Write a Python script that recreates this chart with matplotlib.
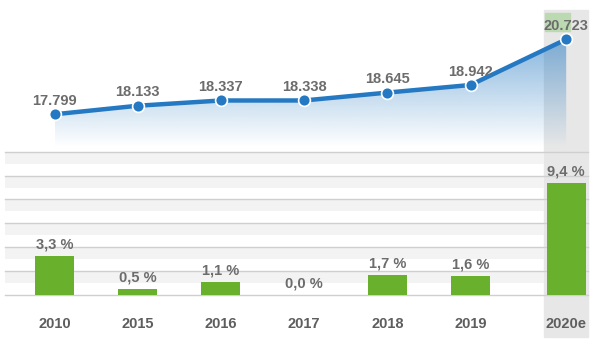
import numpy as np
import matplotlib
matplotlib.use('Agg')
import matplotlib.pyplot as plt
from matplotlib.patches import Rectangle, Polygon

years = ['2010', '2015', '2016', '2017', '2018', '2019', '2020e']
totals = [17.799, 18.133, 18.337, 18.338, 18.645, 18.942, 20.723]
growth = [3.3, 0.5, 1.1, 0.0, 1.7, 1.6, 9.4]
total_labels = ['17.799', '18.133', '18.337', '18.338', '18.645', '18.942', '20.723']
growth_labels = ['3,3 %', '0,5 %', '1,1 %', '0,0 %', '1,7 %', '1,6 %', '9,4 %']

BLUE = '#2479c2'
GREEN = '#69b12d'
TEXT = '#6c6c6c'
FONT = ['Liberation Sans', 'DejaVu Sans']

W, H = 600, 343
fig = plt.figure(figsize=(6, 3.43), dpi=100)
fig.patch.set_facecolor('white')

# estimate column sits a bit further right than the rest
xpos = np.arange(len(years), dtype=float)
xpos[-1] += 0.15
xlim = (-0.595, 6.412)


def px_box(x0, y0, x1, y1):
    # pixel box (top-left origin) -> figure fraction rect
    return [x0 / W, 1 - y1 / H, (x1 - x0) / W, (y1 - y0) / H]


# grey highlight behind the estimate
fig.patches.append(Rectangle((544 / W, 1 - 337 / H), 44 / W, 327 / H,
                             transform=fig.transFigure, color='#e7e7e7', zorder=-10))
# green tag behind the estimate value
fig.patches.append(Rectangle((545 / W, 1 - 31 / H), 25 / W, 18 / H,
                             transform=fig.transFigure, color='#bcdab2', zorder=-9))

# ---- top panel: totals line ----
ax1 = fig.add_axes(px_box(5, 0, 588, 147))
ax1.set_xlim(*xlim)
ylo, yhi = 16.524, 22.255
ax1.set_ylim(ylo, yhi)
ax1.patch.set_alpha(0)
ax1.axis('off')

grad = np.zeros((256, 1, 4))
r, g, b = matplotlib.colors.to_rgb(BLUE)
grad[..., 0], grad[..., 1], grad[..., 2] = r, g, b
grad[..., 3] = np.linspace(0.55, 0.0, 256)[:, None]
img = ax1.imshow(grad, extent=(xpos[0], xpos[-1], ylo, max(totals)),
                 aspect='auto', origin='upper', zorder=1)
poly = Polygon(list(zip(xpos, totals)) + [(xpos[-1], ylo), (xpos[0], ylo)],
               closed=True, transform=ax1.transData)
img.set_clip_path(poly)

ax1.plot(xpos, totals, color=BLUE, lw=3.2, zorder=3, solid_capstyle='round')
ax1.plot(xpos, totals, 'o', ms=8.5, color=BLUE, mec='white', mew=1.2, zorder=4)
for x, v, lab in zip(xpos, totals, total_labels):
    ax1.annotate(lab, (x, v), xytext=(0, 4.5), textcoords='offset points',
                 ha='center', va='bottom', fontsize=10.5, fontweight='bold',
                 color=TEXT, family=FONT, zorder=5)

# ---- bottom panel: growth bars ----
ax2 = fig.add_axes(px_box(5, 151.7, 588, 295))
ax2.set_xlim(*xlim)
ax2.set_ylim(0, 12)
ax2.patch.set_alpha(0)
for s in ax2.spines.values():
    s.set_visible(False)
ax2.set_xticks([])
ax2.set_yticks([])

# light stripes stop where the grey estimate column begins
band_end = (544 - 5) / (588 - 5)
for gl in range(0, 13, 2):
    ax2.axhline(gl, color='#cfcfcf', lw=1, zorder=1, clip_on=False)
    if gl > 0:
        ax2.axhspan(gl - 1, gl, xmax=band_end, color='#f3f3f3', lw=0, zorder=0.5)

ax2.bar(xpos, growth, width=0.47, color=GREEN, zorder=2)
for x, v, lab, yr in zip(xpos, growth, growth_labels, years):
    ax2.annotate(lab, (x, v), xytext=(0, 3), textcoords='offset points',
                 ha='center', va='bottom', fontsize=10.5, fontweight='bold',
                 color=TEXT, family=FONT, zorder=5)
    ax2.annotate(yr, (x, 0), xytext=(0, -21), textcoords='offset points',
                 ha='center', va='center', fontsize=10.5, fontweight='bold',
                 color='#5e5e5e', family=FONT)

fig.savefig('out.png', dpi=100)
